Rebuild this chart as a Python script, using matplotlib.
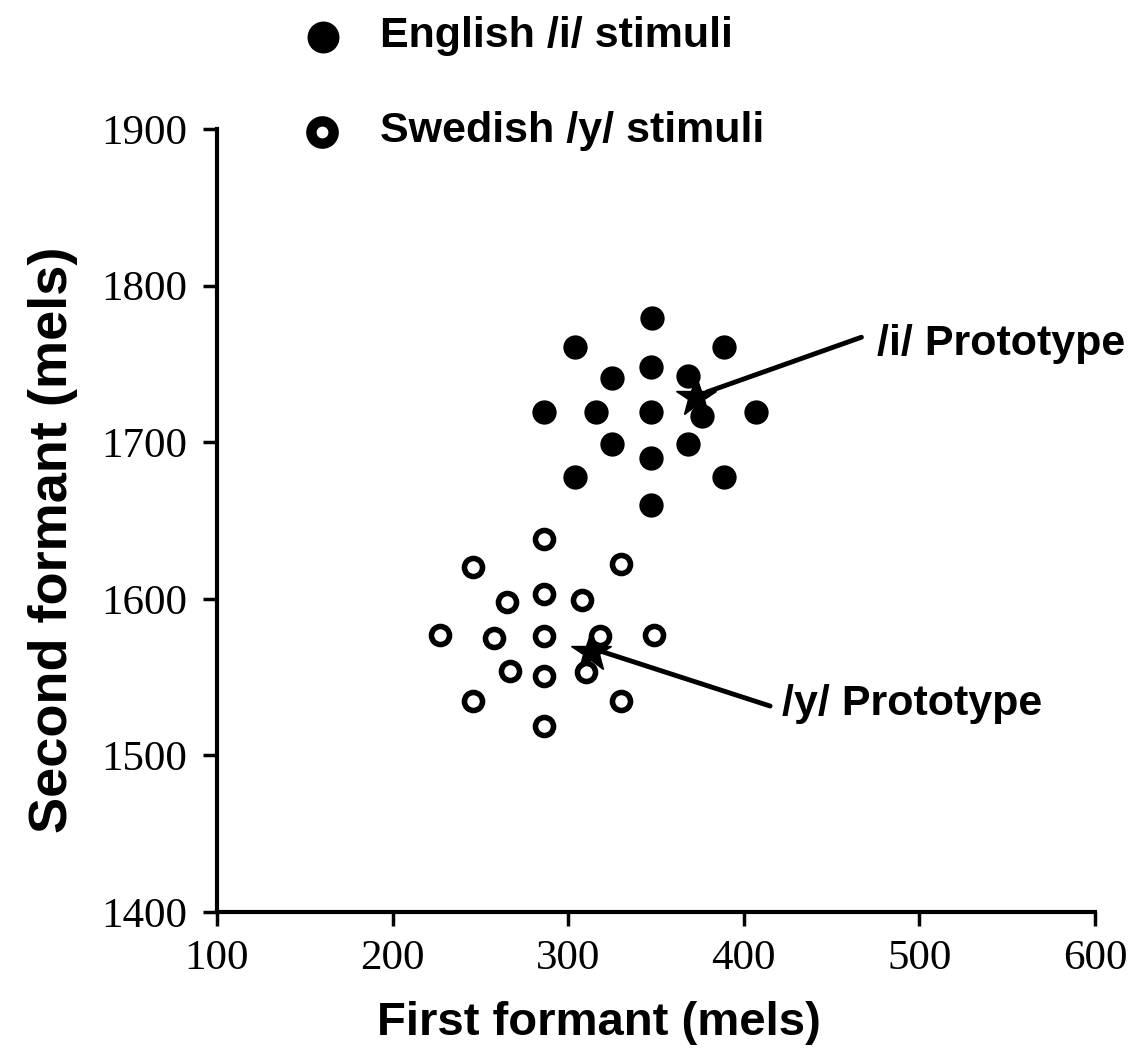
import numpy as np
import matplotlib.pyplot as plt

# English /i/ stimuli (first formant, second formant), mels
english_f1 = [348, 304, 389, 347, 325, 368, 286, 316, 347, 376, 407, 325, 368, 347, 304, 389, 347]
english_f2 = [1779, 1761, 1761, 1748, 1741, 1742, 1719, 1719, 1719, 1717, 1719, 1699, 1699, 1690, 1678, 1678, 1660]

# Swedish /y/ stimuli
swedish_f1 = [286, 246, 330, 265, 286, 308, 227, 258, 286, 318, 349, 267, 286, 310, 246, 330, 286]
swedish_f2 = [1638, 1620, 1622, 1598, 1603, 1599, 1577, 1575, 1576, 1576, 1577, 1554, 1551, 1553, 1535, 1535, 1519]

# prototypes
proto_f1 = [373, 313]
proto_f2 = [1729, 1566]
proto_labels = ['/i/ Prototype', '/y/ Prototype']

SERIF = 'Liberation Serif'
SANS = 'Liberation Sans'

fig = plt.figure(figsize=(11.45, 10.57), dpi=100)
ax = fig.add_axes([0.1895, 0.1372, 0.7668, 0.7408])

ax.plot(english_f1, english_f2, 'o', color='black', markersize=17.5, markeredgewidth=0, linestyle='none')
ax.plot(swedish_f1, swedish_f2, 'o', markerfacecolor='white', markeredgecolor='black',
        markersize=13, markeredgewidth=4, linestyle='none')
ax.plot(proto_f1, proto_f2, '*', color='black', markersize=30, linestyle='none')

# pointer lines from the labels to the prototypes
ax.annotate('', xy=(379, 1732), xytext=(467, 1767),
            arrowprops=dict(arrowstyle='-', lw=3.5, color='black', shrinkA=0, shrinkB=0))
ax.annotate('', xy=(320, 1566), xytext=(415, 1531.5),
            arrowprops=dict(arrowstyle='-', lw=3.5, color='black', shrinkA=0, shrinkB=0))
ax.text(476, 1755.7, proto_labels[0], fontsize=31, fontweight='bold', family=SANS,
        va='baseline', ha='left')
ax.text(422, 1525.8, proto_labels[1], fontsize=31, fontweight='bold', family=SANS,
        va='baseline', ha='left')

# legend drawn above the axes
ax.plot([160.4], [1958.7], 'o', color='black', markersize=23, markeredgewidth=0, clip_on=False)
ax.plot([160], [1898], 'o', markerfacecolor='white', markeredgecolor='black',
        markersize=16, markeredgewidth=7.5, clip_on=False)
ax.text(193, 1952.4, 'English /i/ stimuli', fontsize=31, fontweight='bold', family=SANS,
        va='baseline', ha='left', clip_on=False)
ax.text(193, 1891.7, 'Swedish /y/ stimuli', fontsize=31, fontweight='bold', family=SANS,
        va='baseline', ha='left', clip_on=False)

ax.set_xlim(100, 600)
ax.set_ylim(1400, 1900)
ax.set_xticks(np.arange(100, 601, 100))
ax.set_yticks(np.arange(1400, 1901, 100))

for s in ['top', 'right']:
    ax.spines[s].set_visible(False)
for s in ['left', 'bottom']:
    ax.spines[s].set_linewidth(3)

ax.tick_params(direction='out', length=10, width=2.5)
ax.tick_params(axis='y', pad=11.5)
ax.tick_params(axis='x', pad=10)
for lab in ax.get_xticklabels() + ax.get_yticklabels():
    lab.set_family(SERIF)
    lab.set_fontsize(31)

ax.set_xlabel('First formant (mels)', fontsize=34, fontweight='bold', family=SANS, va='baseline')
ax.xaxis.set_label_coords(0.435, -0.157)
ax.set_ylabel('Second formant (mels)', fontsize=39, fontweight='bold', family=SANS, va='baseline')
ax.yaxis.set_label_coords(-0.171, 0.475)

plt.savefig('out.png', dpi=100)
